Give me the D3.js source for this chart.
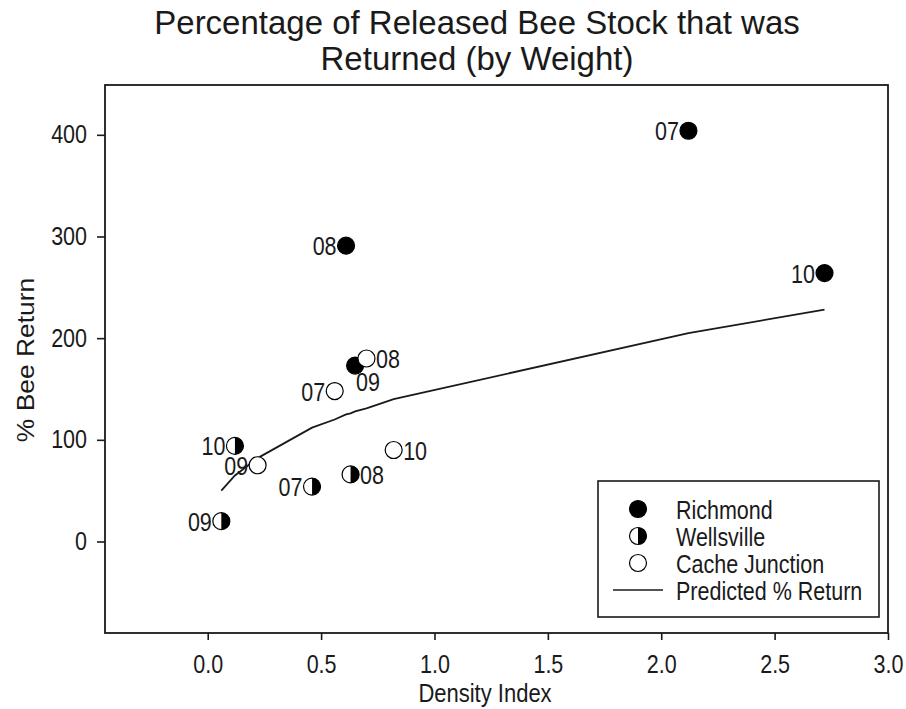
<!DOCTYPE html>
<html>
<head>
<meta charset="utf-8">
<script src="https://cdn.jsdelivr.net/npm/d3@7"></script>
<style>
  html, body { margin: 0; padding: 0; background: #fff; }
  svg { display: block; font-family: "Liberation Sans", Arial, sans-serif; }
</style>
</head>
<body>
<svg id="chart" width="906" height="709"></svg>
<script>
// Density index (x) and % bee return (y) for each site and year
const years = ["07", "08", "09", "10"];

const richmondX = [2.12, 0.61, 0.65, 2.72];
const richmondY = [404, 291, 173, 264];
const richmondLabelSide = ["left", "left", "below", "left"];

const wellsvilleX = [0.46, 0.63, 0.06, 0.12];
const wellsvilleY = [54, 66, 20, 94];
const wellsvilleLabelSide = ["left", "right", "left", "left"];

const cacheX = [0.56, 0.70, 0.22, 0.82];
const cacheY = [148, 180, 75, 90];
const cacheLabelSide = ["left", "right", "left", "right"];

// Predicted % return evaluated at the observed densities
const predX = [0.06, 0.12, 0.22, 0.46, 0.56, 0.61, 0.63, 0.65, 0.70, 0.82, 2.12, 2.72];
const predY = [50, 65, 82, 112, 120, 125, 126, 128, 131, 140, 205, 228];

const xTicks = [0.0, 0.5, 1.0, 1.5, 2.0, 2.5, 3.0];
const yTicks = [0, 100, 200, 300, 400];

const legendItems = ["Richmond", "Wellsville", "Cache Junction", "Predicted % Return"];

const svg = d3.select("#chart");
const plot = { left: 105, right: 888, top: 85, bottom: 633 };

const x = d3.scaleLinear().domain([-0.453, 3.0]).range([plot.left, plot.right]);
const y = d3.scaleLinear().domain([-90, 449]).range([plot.bottom, plot.top]);

const ink = "#1a1a1a";
const R = 8.5;
const TALL = 1.16;   // glyphs are drawn slightly taller than wide
const FS = 21.5;

// Places a text at (tx, ty) with the vertical glyph stretch applied about that point
function placeText(sel, tx, ty, k = TALL) {
  return sel.attr("x", 0).attr("y", 0)
    .attr("transform", `translate(${tx},${ty}) scale(1,${k})`);
}

// Title
[["Percentage of Released Bee Stock that was", 34], ["Returned (by Weight)", 70]].forEach(([s, ty]) => {
  placeText(svg.append("text"), 477, ty, 1.03)
    .attr("text-anchor", "middle").attr("font-size", 33).attr("fill", ink).text(s);
});

// Axes
const xAxis = d3.axisBottom(x).tickValues(xTicks).tickFormat(d3.format(".1f"))
  .tickSize(7).tickPadding(12);
const yAxis = d3.axisLeft(y).tickValues(yTicks).tickFormat(d3.format("d"))
  .tickSize(8).tickPadding(10);

const gx = svg.append("g").attr("transform", `translate(0,${plot.bottom})`).call(xAxis);
const gy = svg.append("g").attr("transform", `translate(${plot.left},0)`).call(yAxis);
[gx, gy].forEach(g => {
  g.select(".domain").remove();
  g.selectAll(".tick line").attr("stroke", ink).attr("stroke-width", 1.6);
  g.selectAll(".tick text").attr("font-size", FS).attr("fill", ink)
    .attr("font-family", "'Liberation Sans', Arial, sans-serif")
    .attr("transform", `scale(1,${TALL})`);
});

// Frame
svg.append("rect")
  .attr("x", plot.left).attr("y", plot.top)
  .attr("width", plot.right - plot.left).attr("height", plot.bottom - plot.top)
  .attr("fill", "none").attr("stroke", ink).attr("stroke-width", 1.8);

// Axis titles
placeText(svg.append("text"), 485, 702)
  .attr("text-anchor", "middle").attr("font-size", 22).attr("fill", ink).text("Density Index");
svg.append("text")
  .attr("transform", `translate(34,${(plot.top + plot.bottom) / 2 + 1}) rotate(-90) scale(1.1,1)`)
  .attr("text-anchor", "middle").attr("font-size", 24).attr("fill", ink)
  .text("% Bee Return");

// Predicted curve
const line = d3.line().x((d, i) => x(predX[i])).y((d, i) => y(predY[i]));
svg.append("path").datum(predX).attr("d", line)
  .attr("fill", "none").attr("stroke", ink).attr("stroke-width", 1.8);

// Marker drawing helpers
function drawMarker(g, kind, cx, cy, r) {
  if (kind === "full") {
    g.append("circle").attr("cx", cx).attr("cy", cy).attr("r", r)
      .attr("fill", "#000").attr("stroke", "#000").attr("stroke-width", 1.2);
  } else if (kind === "half") {
    g.append("circle").attr("cx", cx).attr("cy", cy).attr("r", r)
      .attr("fill", "#fff").attr("stroke", "#000").attr("stroke-width", 1.2);
    g.append("path")
      .attr("d", `M${cx},${cy - r} A${r},${r} 0 0 1 ${cx},${cy + r} Z`)
      .attr("fill", "#000");
  } else {
    g.append("circle").attr("cx", cx).attr("cy", cy).attr("r", r)
      .attr("fill", "#fff").attr("stroke", "#000").attr("stroke-width", 1.2);
  }
}

function drawSite(xs, ys, sides, kind) {
  const g = svg.append("g");
  xs.forEach((xv, i) => {
    const cx = x(xv), cy = y(ys[i]);
    drawMarker(g, kind, cx, cy, R);
    const t = g.append("text").attr("font-size", FS).attr("fill", ink)
      .attr("dominant-baseline", "central").text(years[i]);
    if (sides[i] === "left") {
      placeText(t, cx - R - 1, cy + 1).attr("text-anchor", "end");
    } else if (sides[i] === "right") {
      placeText(t, cx + R + 1, cy + 1).attr("text-anchor", "start");
    } else {
      placeText(t, cx + 1, cy + 17).attr("text-anchor", "start");
    }
  });
}

drawSite(richmondX, richmondY, richmondLabelSide, "full");
drawSite(wellsvilleX, wellsvilleY, wellsvilleLabelSide, "half");
drawSite(cacheX, cacheY, cacheLabelSide, "open");

// Legend
const lg = svg.append("g");
lg.append("rect").attr("x", 598).attr("y", 481).attr("width", 281).attr("height", 136)
  .attr("fill", "#fff").attr("stroke", ink).attr("stroke-width", 1.6);
const rowY = [509, 536, 563, 590];
const kinds = ["full", "half", "open", "line"];
legendItems.forEach((name, i) => {
  if (kinds[i] === "line") {
    lg.append("line").attr("x1", 613).attr("x2", 663).attr("y1", rowY[i]).attr("y2", rowY[i])
      .attr("stroke", ink).attr("stroke-width", 1.6);
  } else {
    drawMarker(lg, kinds[i], 638, rowY[i], R);
  }
  placeText(lg.append("text"), 676, rowY[i] + 1)
    .attr("dominant-baseline", "central").attr("font-size", FS).attr("fill", ink)
    .text(name);
});
</script>
</body>
</html>
